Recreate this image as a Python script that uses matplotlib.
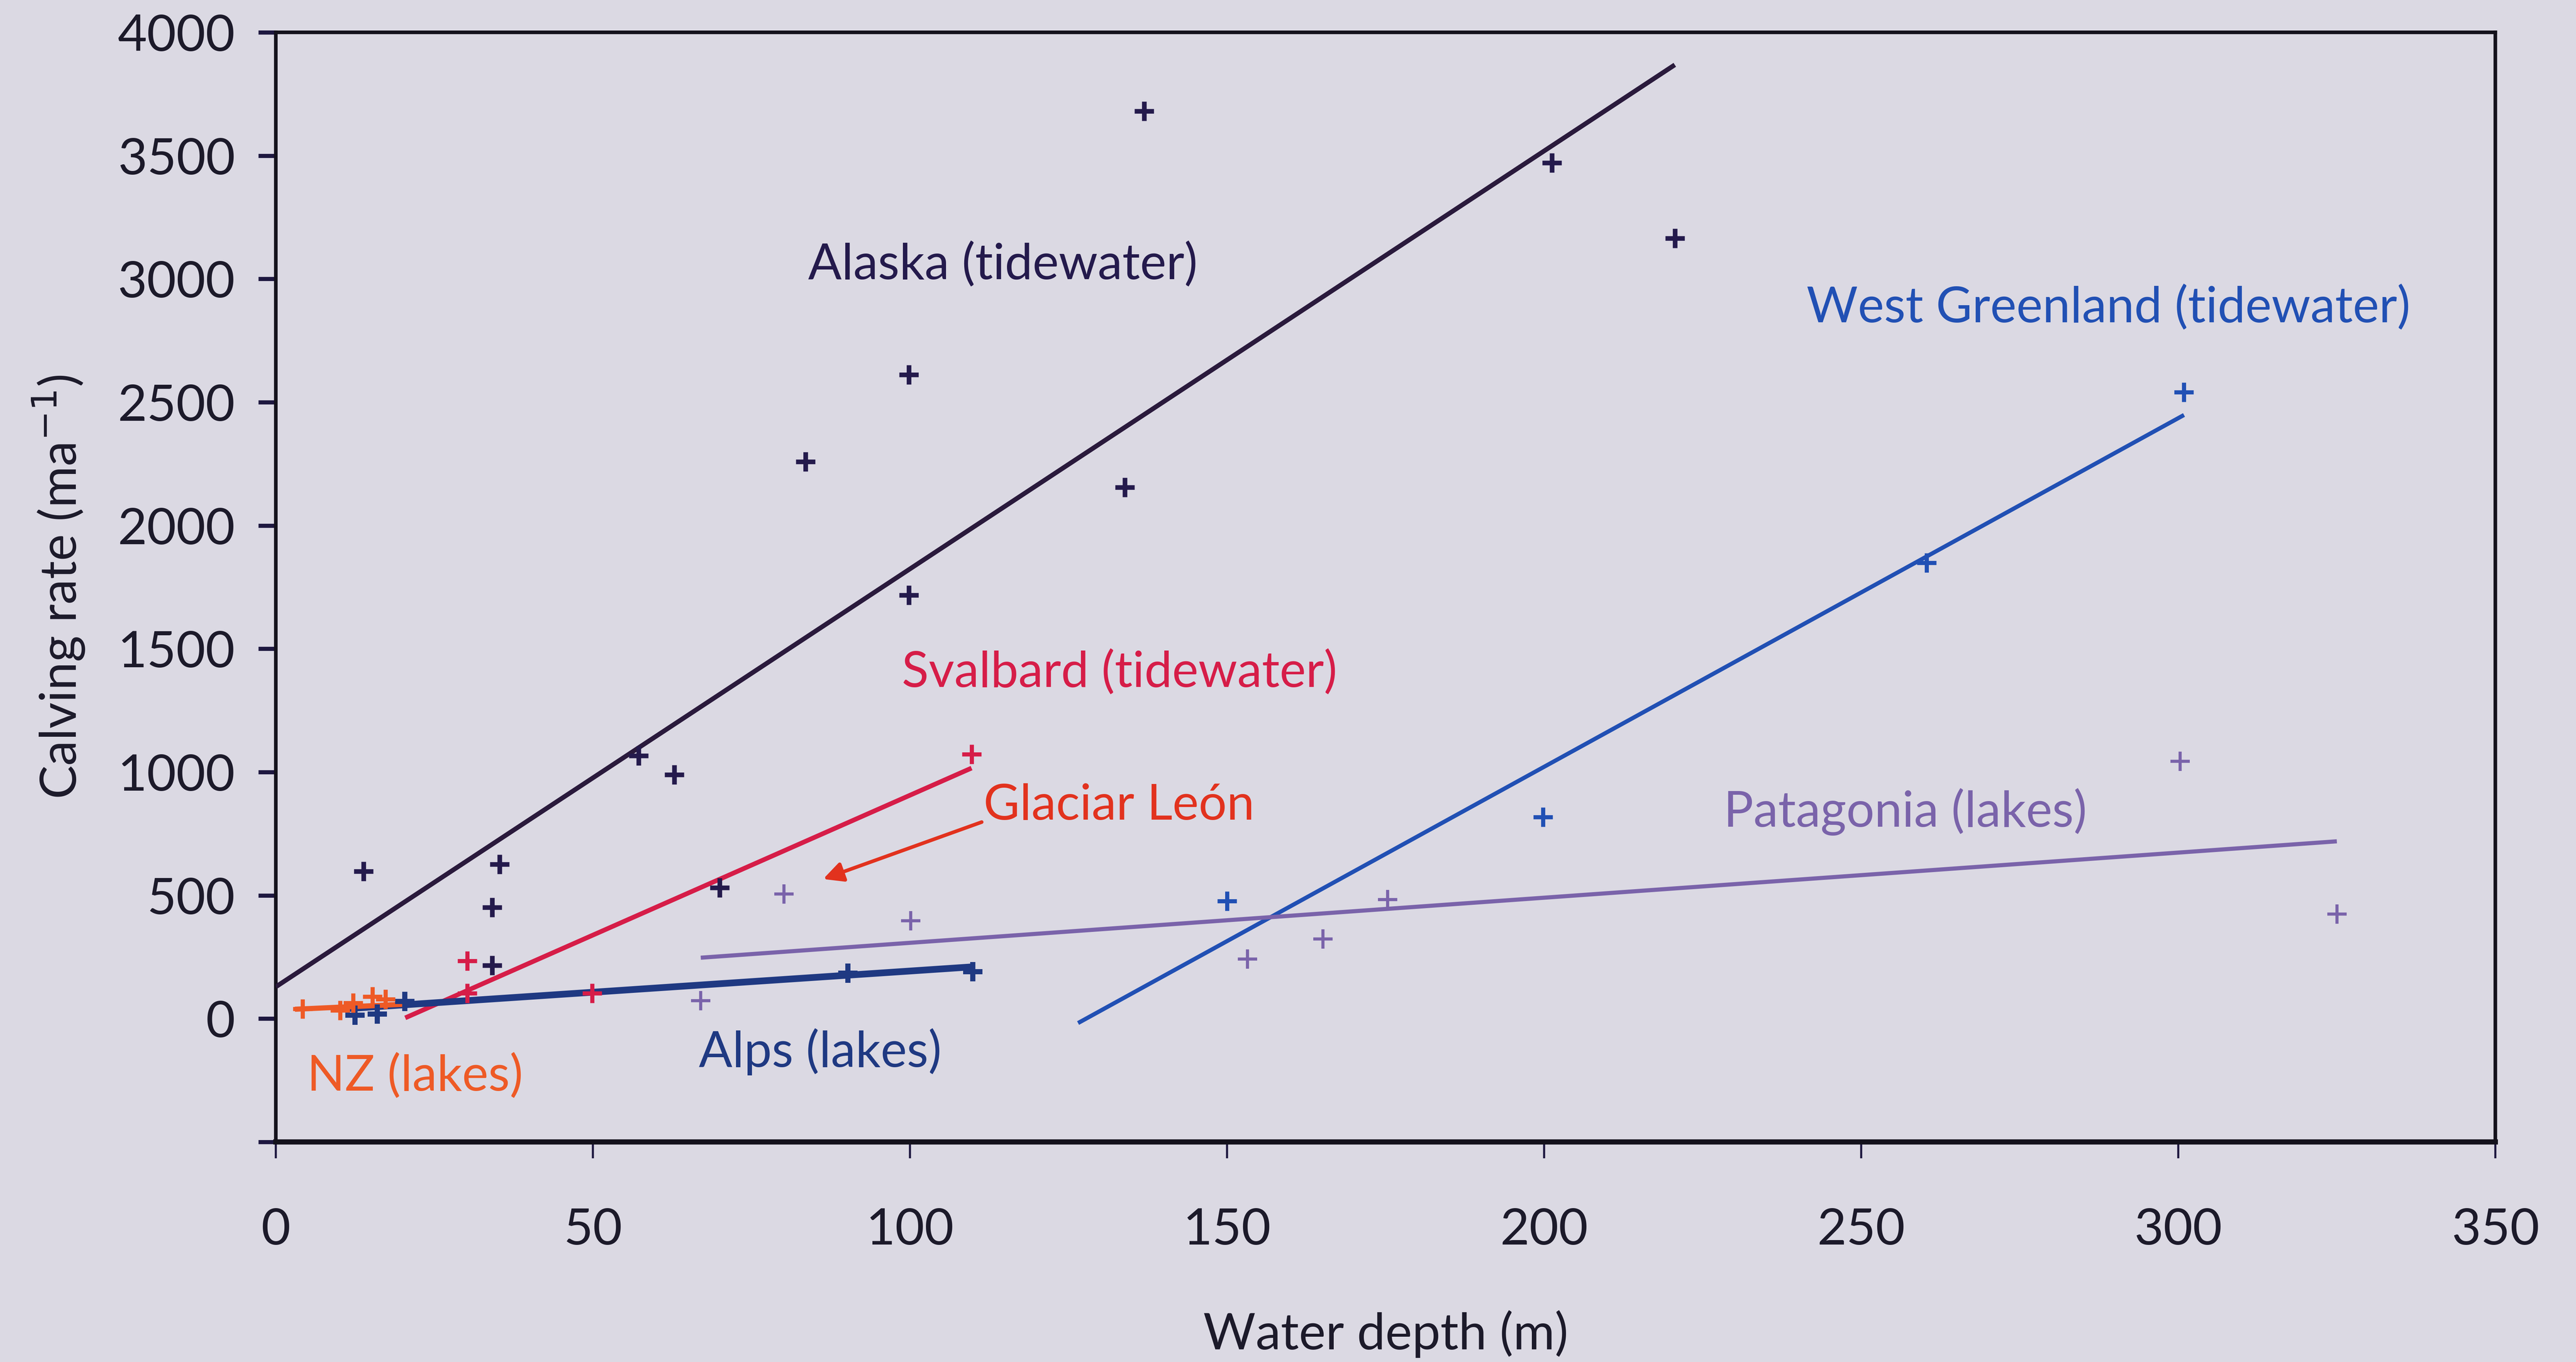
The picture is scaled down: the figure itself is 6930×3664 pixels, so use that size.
import matplotlib
matplotlib.use("Agg")
import matplotlib.pyplot as plt

# ---------------- data ----------------
alaska_x = [13.8, 34.1, 34.1, 35.3, 57.2, 62.8, 70.0, 83.5, 99.8, 99.8, 133.9, 136.9, 201.2, 220.6]
alaska_y = [597, 216, 451, 626, 1066, 990, 531, 2259, 1717, 2611, 2155, 3680, 3470, 3165]
alaska_fit_x = [0, 220.6]
alaska_fit_y = [129, 3868]

greenland_x = [150.0, 199.8, 260.3, 300.9]
greenland_y = [477, 818, 1848, 2541]
greenland_fit_x = [126.5, 300.9]
greenland_fit_y = [-18, 2448]

svalbard_x = [30.2, 30.2, 49.9, 109.7]
svalbard_y = [234, 103, 103, 1072]
svalbard_fit_x = [20.4, 109.7]
svalbard_fit_y = [3, 1016]

patagonia_x = [67.0, 80.1, 100.1, 153.2, 165.1, 175.3, 300.3, 325.0]
patagonia_y = [72, 506, 397, 241, 323, 482, 1044, 424]
patagonia_fit_x = [67.0, 325.0]
patagonia_fit_y = [247, 719]

alps_x = [12.5, 16.0, 20.3, 90.2, 109.9]
alps_y = [14, 19, 69, 185, 191]
alps_fit_x = [11.0, 109.9]
alps_fit_y = [40, 210]

nz_x = [4.2, 10.1, 12.2, 15.2, 17.3]
nz_y = [39, 34, 64, 89, 79]
nz_fit_x = [3.0, 20.0]
nz_fit_y = [38, 58]

leon_arrow_tail = (111.3, 797)
leon_arrow_head = (86.3, 566)

x_ticks = [0, 50, 100, 150, 200, 250, 300, 350]
y_ticks = [-500, 0, 500, 1000, 1500, 2000, 2500, 3000, 3500, 4000]
y_tick_labels = ["", "0", "500", "1000", "1500", "2000", "2500", "3000", "3500", "4000"]

# ---------------- style ----------------
BG = "#dbd9e3"
C_ALASKA = "#241a4c"
C_ALASKA_LINE = "#2a1a3c"
C_GREEN = "#2150b4"
C_SVAL = "#d61d48"
C_LEON = "#e2321e"
C_NZ = "#ee5a26"
C_ALPS = "#1f3982"
C_PATA = "#7a63aa"
C_TEXT = "#1c1a2a"

plt.rcParams['font.family'] = ['Lato', 'DejaVu Sans']

fig = plt.figure(figsize=(69.3, 36.64), dpi=100, facecolor=BG)
ax = fig.add_axes([0.1071, 0.1616, 0.8616, 0.8147], facecolor=BG)

# fit lines
ax.plot(alaska_fit_x, alaska_fit_y, color=C_ALASKA_LINE, lw=9, solid_capstyle='butt', zorder=3)
ax.plot(greenland_fit_x, greenland_fit_y, color=C_GREEN, lw=8, solid_capstyle='butt', zorder=3)
ax.plot(patagonia_fit_x, patagonia_fit_y, color=C_PATA, lw=8, solid_capstyle='butt', zorder=3)
ax.plot(svalbard_fit_x, svalbard_fit_y, color=C_SVAL, lw=9, solid_capstyle='butt', zorder=4)
ax.plot(alps_fit_x, alps_fit_y, color=C_ALPS, lw=13, solid_capstyle='butt', zorder=4)
ax.plot(nz_fit_x, nz_fit_y, color=C_NZ, lw=10, solid_capstyle='butt', zorder=5)

# points
mk = dict(marker='+', linestyle='none', markersize=38, zorder=6)
ax.plot(alaska_x, alaska_y, color=C_ALASKA, mew=9, **mk)
ax.plot(greenland_x, greenland_y, color=C_GREEN, mew=8, **mk)
ax.plot(svalbard_x, svalbard_y, color=C_SVAL, mew=8, **mk)
ax.plot(patagonia_x, patagonia_y, color=C_PATA, mew=6, **mk)
ax.plot(alps_x, alps_y, color=C_ALPS, mew=10, **mk)
ax.plot(nz_x, nz_y, color=C_NZ, mew=8, **mk)

# arrow for Glaciar León
ax.annotate("", xy=leon_arrow_head, xytext=leon_arrow_tail,
            arrowprops=dict(arrowstyle='-|>', color=C_LEON, lw=7,
                            mutation_scale=80, shrinkA=0, shrinkB=0), zorder=6)

# labels
fs = 96
ax.text(83.9, 3059, "Alaska (tidewater)", color=C_ALASKA, fontsize=fs, va='center', ha='left')
ax.text(241.4, 2883, "West Greenland (tidewater)", color=C_GREEN, fontsize=fs, va='center', ha='left')
ax.text(98.7, 1404, "Svalbard (tidewater)", color=C_SVAL, fontsize=fs, va='center', ha='left')
ax.text(111.6, 864, "Glaciar León", color=C_LEON, fontsize=fs, va='center', ha='left')
ax.text(228.3, 838, "Patagonia (lakes)", color=C_PATA, fontsize=fs, va='center', ha='left')
ax.text(66.7, -134, "Alps (lakes)", color=C_ALPS, fontsize=fs, va='center', ha='left')
ax.text(4.9, -233, "NZ (lakes)", color=C_NZ, fontsize=fs, va='center', ha='left')

# axes
ax.set_xlim(0, 350)
ax.set_ylim(-500, 4000)
ax.set_xticks(x_ticks)
ax.set_xticklabels([str(v) for v in x_ticks])
ax.set_yticks(y_ticks)
ax.set_yticklabels(y_tick_labels)

for s in ['left', 'right', 'top']:
    ax.spines[s].set_color('#14121c')
    ax.spines[s].set_linewidth(7)
ax.spines['bottom'].set_color('#14121c')
ax.spines['bottom'].set_linewidth(10)

ax.tick_params(axis='y', direction='out', length=34, width=8, color='#1e1840',
               labelsize=98, labelcolor=C_TEXT, pad=45)
ax.tick_params(axis='x', direction='out', length=32, width=4, color='#1e1840',
               labelsize=98, labelcolor=C_TEXT, pad=95)

ax.set_xlabel("Water depth (m)", fontsize=98, color=C_TEXT, labelpad=110)
ax.set_ylabel("Calving rate (ma$^{-1}$)", fontsize=98, color=C_TEXT, labelpad=60)

fig.savefig("out.png", dpi=100, facecolor=BG)
